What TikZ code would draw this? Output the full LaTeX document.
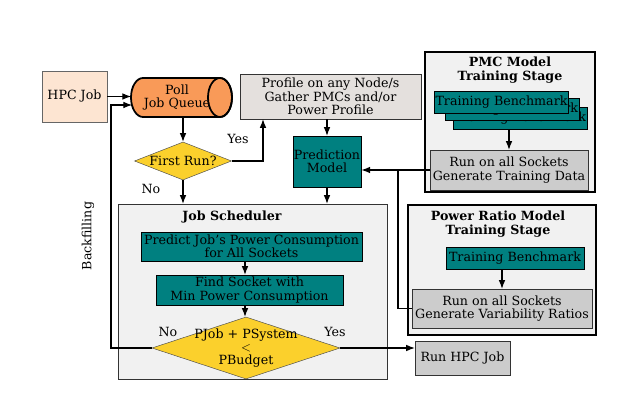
\documentclass[tikz,border=0pt]{standalone}
\usepackage{fontspec}
\setmainfont{DejaVu Serif}
\usetikzlibrary{shapes.geometric,arrows.meta,calc}
\definecolor{tealc}{HTML}{008080}
\definecolor{peach}{HTML}{FDE5D2}
\definecolor{orangec}{HTML}{F99A58}
\definecolor{yellowc}{HTML}{FBD02C}
\definecolor{profc}{HTML}{E4E0DD}
\definecolor{grayc}{HTML}{CCCCCC}
\definecolor{panel}{HTML}{F1F1F1}
\begin{document}
\begin{tikzpicture}[x=0.03cm,y=-0.03cm,
  every node/.style={font=\fontsize{10.8}{11.4}\selectfont, align=center, inner sep=1pt},
  box/.style={draw=black!80, thin, rectangle, minimum width=#1*0.03cm},
  hh/.style={minimum height=#1*0.03cm},
  tealbox/.style={box=#1, fill=tealc, draw=black},
  graybox/.style={box=#1, fill=grayc},
  outer/.style={draw=black, line width=1.2pt, fill=panel},
  conn/.style={draw=black, line width=0.9pt},
  arr/.style={conn, -{Latex[length=2.6mm,width=2mm]}},
  lbl/.style={font=\fontsize{10.8}{11.4}\selectfont},
  ttl/.style={font=\fontsize{10.8}{11.4}\selectfont\bfseries}
]
\useasboundingbox (0,0) rectangle (635,405);

% panels
\node[outer, minimum width=5.1cm, minimum height=4.2cm] (pmc) at (510,122) {};
\node[ttl] (pmct) at (510,70) {PMC Model\\Training Stage};
\node[outer, minimum width=5.64cm, minimum height=3.9cm] (pr) at (502,270) {};
\node[ttl] (prt) at (498,224) {Power Ratio Model\\Training Stage};
\node[draw=black!80, fill=panel, minimum width=8.07cm, minimum height=5.25cm] (js) at (252.5,291.5) {};
\node[ttl] (jst) at (232,217) {Job Scheduler};

% left column
\node[box=65, hh=51, fill=peach, draw=black!60] (hpc) at (74.5,96.5) {HPC Job};
\draw[draw=black, line width=1.5pt, fill=orangec]
  (143,78) -- (220,78) arc[start angle=-90, end angle=90, x radius=12, y radius=19.5]
  -- (143,117) arc[start angle=90, end angle=270, x radius=12, y radius=19.5] -- cycle;
\draw[draw=black, line width=1.5pt] (220,97.5) ellipse[x radius=12, y radius=19.5];
\node (cylt) at (177,97.5) {Poll\\Job Queue};
\coordinate (cylw) at (131,96);
\coordinate (cylb) at (183,117);
\node[diamond, draw=black!70, fill=yellowc, aspect=2.5, inner sep=0pt,
      minimum width=2.91cm, minimum height=1.14cm] (fr) at (183,161) {First Run?};

\node[box=181, hh=45, fill=profc] (prof) at (330.5,96.5) {Profile on any Node/s\\Gather PMCs and/or\\Power Profile};
\node[tealbox=68, hh=51] (pm) at (327,161.5) {Prediction\\Model};

% scheduler
\node[tealbox=221, hh=29] (pred) at (251.5,246.5) {Predict Job's Power Consumption\\for All Sockets};
\node[tealbox=187, hh=30] (find) at (249.5,290) {Find Socket with\\Min Power Consumption};
\node[diamond, draw=black!70, fill=yellowc, inner sep=0pt,
      minimum width=5.64cm, minimum height=1.86cm] (pj) at (246,348) {};
\node (pjt) at (246,348) {PJob + PSystem\\$<$\\PBudget};
\node[graybox=95, hh=34] (run) at (462.5,358) {Run HPC Job};

% PMC panel
\node[tealbox=133, hh=22] (tb3) at (520,118) {Training Benchmark};
\node[tealbox=132, hh=22] (tb2) at (512,109) {Training Benchmark};
\node[tealbox=133, hh=22] (tb1) at (501.5,102) {Training Benchmark};
\node[graybox=158, hh=40] (runt) at (509,170) {Run on all Sockets\\Generate Training Data};

% PR panel
\node[tealbox=138, hh=22] (tbp) at (515,258) {Training Benchmark};
\node[graybox=180, hh=39] (runv) at (502,308.5) {Run on all Sockets\\Generate Variability Ratios};

% labels
\node[lbl] (yes1) at (238,139) {Yes};
\node[lbl] (no1) at (151,189) {No};
\node[lbl] (no2) at (168,332) {No};
\node[lbl] (yes2) at (335,332) {Yes};
\node[lbl, rotate=90] (bfl) at (88,236) {Backfilling};

% coordinates
\coordinate (yx) at (263,0);
\coordinate (bf) at (111,105);
\coordinate (jx) at (398,0);

% connectors
\draw[arr] (hpc.east) -- (hpc.east -| cylw);
\draw[arr] (pj.west) -| (bf) -- ($(bf -| cylw)+(1,0)$);
\draw[arr] (cylb) -- (fr.north);
\draw[arr] (fr.east) -| (prof.south -| yx);
\draw[arr] (fr.south) -- (fr.south |- js.north);
\draw[arr] (pm.north |- prof.south) -- (pm.north);
\draw[arr] (pm.south) -- (pm.south |- js.north);
\draw[arr] (pred.south -| 245,0) -- (find.north -| 245,0);
\draw[arr] (find.south -| 245,0) -- (pj.north -| 245,0);
\draw[arr] (pj.east) -- (pj.east -| run.west);
\draw[arr] (runt.north |- tb3.south) -- (runt.north);
\draw[arr] (tbp.south -| runv.north) -- (runv.north);
\draw[arr] (runt.west) -- (runt.west -| pm.east);
\draw[conn] (runv.west) -- (runv.west -| jx) -- (jx |- runt.west);
\end{tikzpicture}
\end{document}
